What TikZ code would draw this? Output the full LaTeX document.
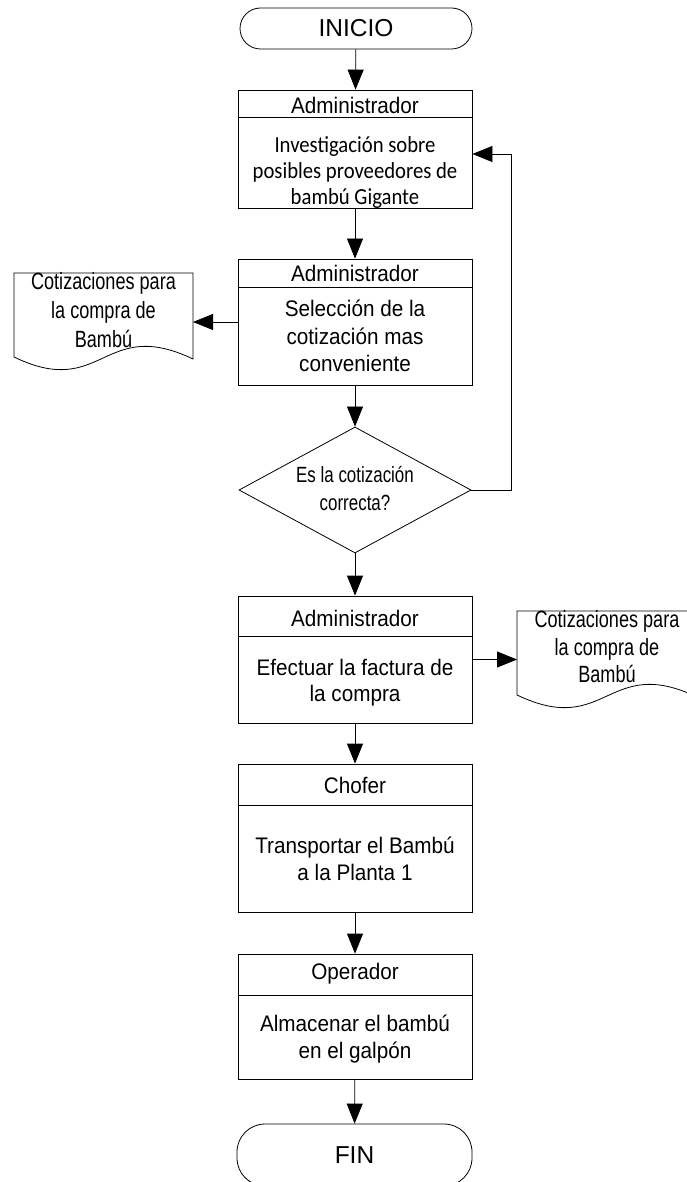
\documentclass[tikz,border=0pt]{standalone}
\usepackage{fontspec}
\setmainfont{Liberation Sans}
\newfontfamily\boxfont[FakeStretch=0.92]{Liberation Sans}
\newfontfamily\calibrifont[FakeStretch=0.9]{Carlito}
\newfontfamily\narrowfont[FakeStretch=0.77]{Liberation Sans}
\usetikzlibrary{arrows.meta,shapes.geometric,calc}

\begin{document}
\begin{tikzpicture}[x=1pt,y=-1pt,line width=0.8pt,
  flow/.style={-{Triangle[length=20pt,width=16pt]}},
  procbox/.style={draw,rectangle,inner sep=0pt,minimum width=234pt},
  termbox/.style={draw,rectangle,inner sep=0pt,font=\fontsize{24.5}{28}\selectfont},
  headtxt/.style={anchor=base,inner sep=0pt,font=\boxfont\fontsize{22.5}{26}\selectfont},
  bodytxt/.style={align=center,inner sep=0pt},
  dectxt/.style={align=center,inner sep=0pt,font=\narrowfont\fontsize{22}{28}\selectfont},
  doctxt/.style={align=center,inner sep=0pt},
  decbox/.style={draw,diamond,aspect=1.84,inner sep=0pt,minimum width=232pt,minimum height=126pt}]
\useasboundingbox (0,0) rectangle (686,1182);

% terminals
\node[termbox,minimum width=232pt,minimum height=41pt,rounded corners=20.5pt] (inicio) at (356,28.5) {INICIO};
\node[termbox,minimum width=235pt,minimum height=62pt,rounded corners=28pt] (fin) at (354.5,1155) {FIN};

% process boxes
\node[procbox,minimum height=118pt] (box1) at (355,149) {};
\node[procbox,minimum height=126pt] (box2) at (355,322) {};
\node[procbox,minimum height=127pt] (box3) at (355,659.5) {};
\node[procbox,minimum height=148pt] (box4) at (355,838) {};
\node[procbox,minimum height=125pt] (box5) at (355,1016.5) {};

% header separators
\draw ($(box1.north west)+(0,28)$) -- ($(box1.north east)+(0,28)$);
\draw ($(box2.north west)+(0,29)$) -- ($(box2.north east)+(0,29)$);
\draw ($(box3.north west)+(0,41)$) -- ($(box3.north east)+(0,41)$);
\draw ($(box4.north west)+(0,42)$) -- ($(box4.north east)+(0,42)$);
\draw ($(box5.north west)+(0,42)$) -- ($(box5.north east)+(0,42)$);

% header texts
\node[headtxt] (h1) at (355,113.3) {Administrador};
\node[headtxt] (h2) at (355,281.7) {Administrador};
\node[headtxt] (h3) at (355,626.7) {Administrador};
\node[headtxt] (h4) at (355,793.3) {Chofer};
\node[headtxt] (h5) at (355,979.3) {Operador};

% body texts
\node[bodytxt,font=\calibrifont\fontsize{23}{26}\selectfont] (b1) at (355,172) {Investigación sobre\\posibles proveedores de\\bambú Gigante};
\node[bodytxt,font=\boxfont\fontsize{22.5}{27.7}\selectfont] (b2) at (355,336.1) {Selección de la\\cotización mas\\conveniente};
\node[bodytxt,font=\boxfont\fontsize{22.5}{25.5}\selectfont] (b3) at (355,682.6) {Efectuar la factura de\\la compra};
\node[bodytxt,font=\boxfont\fontsize{22.5}{27.7}\selectfont] (b4) at (355,858.9) {Transportar el Bambú\\a la Planta 1};
\node[bodytxt,font=\boxfont\fontsize{22.5}{27}\selectfont] (b5) at (355,1038.6) {Almacenar el bambú\\en el galpón};

% decision
\node[decbox] (dia) at (355,490) {};
\node[dectxt] (dtext) at (355,489) {Es la cotización\\correcta?};

% documents
\draw (14,273) -- (193,273) -- (193,359) .. controls (103,316) and (103,400) .. (14,357) -- cycle;
\draw (697,611) -- (517,611) -- (517,695) .. controls (607,738) and (607,654) .. (697,697) -- cycle;
\node[doctxt,font=\narrowfont\fontsize{23.5}{29}\selectfont] (doc1) at (103.5,310.5) {Cotizaciones para\\la compra de\\Bambú};
\node[doctxt,font=\narrowfont\fontsize{23.5}{27.5}\selectfont] (doc2) at (607,647) {Cotizaciones para\\la compra de\\Bambú};
\coordinate (doc1in) at (193,322);
\coordinate (doc2in) at (517,659);

% connectors
\draw[flow] (inicio) -- (box1);
\draw[flow] (box1) -- (box2);
\draw[flow] (box2) -- (dia);
\draw[flow] (dia) -- (box3);
\draw[flow] (box3) -- (box4);
\draw[flow] (box4) -- (box5);
\draw[flow] (box5) -- (fin);
\draw[flow] (box2.west) -- (doc1in);
\draw[flow] (box3.east) -- (doc2in |- box3.east);
\coordinate (fbturn) at (511,154);
\draw[flow] (dia.east) -| (fbturn) -- (box1.east |- fbturn);
\end{tikzpicture}
\end{document}
